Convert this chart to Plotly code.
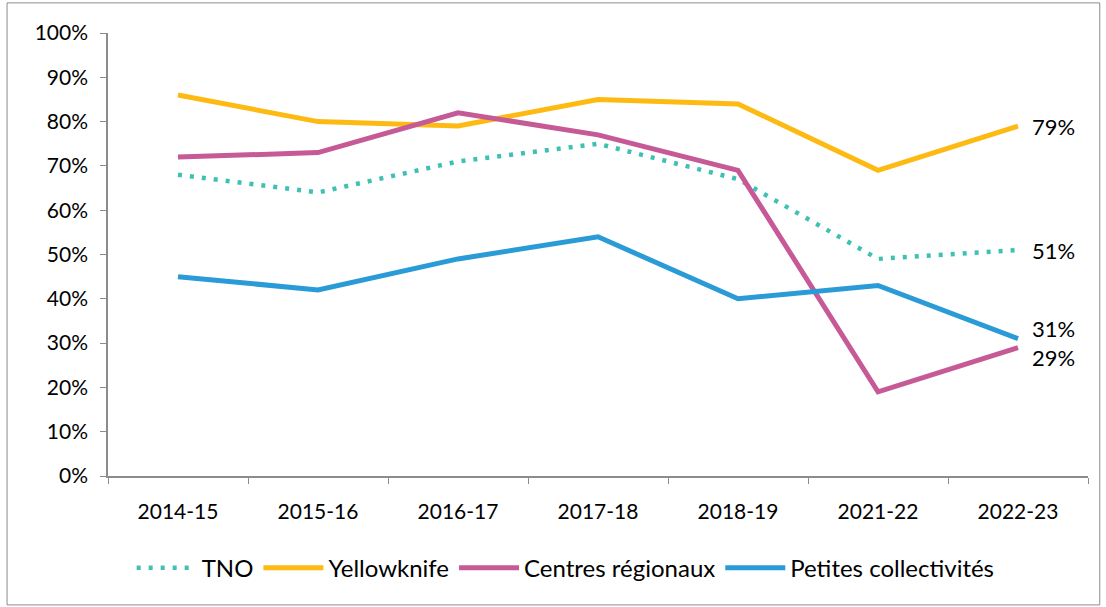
import plotly.graph_objects as go

# Données (% par année)
YEARS = ["2014-15", "2015-16", "2016-17", "2017-18", "2018-19", "2021-22", "2022-23"]
TNO = [68, 64, 71, 75, 67, 49, 51]
YELLOWKNIFE = [86, 80, 79, 85, 84, 69, 79]
CENTRES = [72, 73, 82, 77, 69, 19, 29]
PETITES = [45, 42, 49, 54, 40, 43, 31]

SERIES = [
    ("TNO", TNO, "#3EC1B3", "4px,8px"),
    ("Yellowknife", YELLOWKNIFE, "#FDBA12", "solid"),
    ("Centres régionaux", CENTRES, "#C65A97", "solid"),
    ("Petites collectivités", PETITES, "#2B9BD7", "solid"),
]

# décalage vertical des étiquettes de fin (px)
LABEL_SHIFT = {"TNO": 0, "Yellowknife": 0, "Centres régionaux": -10, "Petites collectivités": 10}

FONT = "Lato, Carlito, 'Noto Sans', sans-serif"

fig = go.Figure()
annotations = []
for name, vals, color, dash in SERIES:
    fig.add_trace(go.Scatter(
        x=YEARS, y=vals, name=name, mode="lines",
        line=dict(color=color, width=5 if dash == "solid" else 4.5, dash=dash),
    ))
    annotations.append(dict(
        x=YEARS[-1], y=vals[-1], text=f"{vals[-1]}%",
        showarrow=False, xanchor="left", xshift=12, yshift=LABEL_SHIFT[name],
        font=dict(size=22, color="#000000", family=FONT),
    ))

fig.update_layout(
    width=1106, height=607,
    margin=dict(l=108, r=18, t=33, b=131),
    paper_bgcolor="white", plot_bgcolor="white",
    font=dict(family=FONT, size=21, color="#000000"),
    annotations=annotations,
    shapes=[dict(
        type="rect", xref="paper", yref="paper",
        x0=-0.103, x1=1.012, y0=-0.291, y1=1.068,
        line=dict(color="#8C8C8C", width=1), fillcolor="rgba(0,0,0,0)",
    )],
    xaxis=dict(
        type="category", showgrid=False, showline=True, linecolor="#8C8C8C",
        linewidth=1.5, ticks="outside", tickson="boundaries", ticklen=6,
        tickcolor="#8C8C8C", tickfont=dict(size=21), range=[-0.5, 6.5],
        ticklabelstandoff=16,
    ),
    yaxis=dict(
        range=[0, 100], dtick=10, ticksuffix="%", showgrid=False, showline=True,
        linecolor="#8C8C8C", linewidth=1.5, ticks="outside", ticklen=6,
        tickcolor="#8C8C8C", tickfont=dict(size=21), zeroline=False,
        ticklabelstandoff=8,
    ),
    legend=dict(
        orientation="h", x=0.467, xanchor="center", y=-0.208, yanchor="middle",
        font=dict(size=24), itemwidth=60,
    ),
)

fig.write_html(
    "out.html",
    config={"displayModeBar": False},
    post_script="document.body.style.margin='0';",
)
